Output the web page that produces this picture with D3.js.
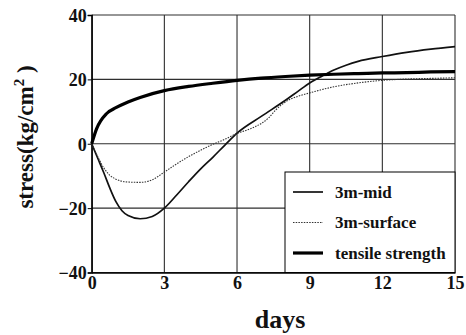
<!DOCTYPE html>
<html>
<head>
<meta charset="utf-8">
<script src="https://cdn.jsdelivr.net/npm/d3@7"></script>
<style>
  body { margin: 0; background: #fff; }
  svg { display: block; }
</style>
</head>
<body>
<script>
'use strict';

// days (x) values for each series
const midDays = [0, 0.25, 0.5, 0.75, 1, 1.25, 1.5, 2, 2.5, 3, 3.5, 4, 4.5, 5, 5.5, 6, 7, 8, 8.5, 9, 9.5, 10, 10.5, 11, 12, 13, 14, 15];
const midStress = [0, -4.5, -9, -13.8, -18, -20.8, -22.3, -23.3, -22.6, -20, -16, -11.8, -7.8, -4.2, -0.4, 3.3, 8.5, 13.5, 16.2, 18.9, 21, 22.9, 24.4, 25.6, 27.1, 28.4, 29.4, 30.2];

const surfDays = [0, 0.25, 0.5, 0.75, 1, 1.5, 2, 2.5, 3, 3.5, 4, 4.5, 5, 5.5, 6, 6.5, 7, 7.3, 7.6, 8, 8.5, 9, 10, 11, 12, 13, 14, 15];
const surfStress = [0, -4, -7.5, -9.8, -11, -11.9, -12, -11.2, -8.8, -6.3, -4, -2, -0.2, 1.4, 3.2, 4.5, 6.3, 8, 10.5, 13, 14.7, 15.8, 17.7, 18.9, 19.7, 20.1, 20.3, 20.5];

const tensDays = [0, 0.2, 0.62, 1, 1.5, 2, 3, 4, 5, 6, 7, 8, 9, 10, 11, 12, 13, 14, 15];
const tensStress = [0, 4.6, 9.4, 11.2, 13, 14.4, 16.5, 17.8, 18.8, 19.7, 20.4, 20.9, 21.3, 21.6, 21.8, 22, 22.1, 22.3, 22.4];

const seriesNames = ['3m-mid', '3m-surface', 'tensile strength'];
const xTicks = [0, 3, 6, 9, 12, 15];
const yTicks = [-40, -20, 0, 20, 40];

const FONT = '"Liberation Serif", "Times New Roman", Times, serif';
const width = 466, height = 335;
const margin = { top: 15, right: 11, bottom: 62.5, left: 91.7 };

const svg = d3.select('body').append('svg')
    .attr('width', width)
    .attr('height', height);

const x = d3.scaleLinear().domain([0, 15]).range([margin.left, width - margin.right]);
const y = d3.scaleLinear().domain([-40, 40]).range([height - margin.bottom, margin.top]);

// grid
const grid = svg.append('g').attr('stroke', '#2e2e2e').attr('stroke-width', 1.1);
grid.selectAll('line.v').data(xTicks).enter().append('line')
    .attr('x1', d => x(d)).attr('x2', d => x(d))
    .attr('y1', y(40)).attr('y2', y(-40));
grid.selectAll('line.h').data(yTicks).enter().append('line')
    .attr('x1', x(0)).attr('x2', x(15))
    .attr('y1', d => y(d)).attr('y2', d => y(d));

// axes
const yAxis = svg.append('g')
    .attr('transform', `translate(${x(0)},0)`)
    .call(d3.axisLeft(y).tickValues(yTicks).tickSize(4).tickPadding(1));
const xAxis = svg.append('g')
    .attr('transform', `translate(0,${y(-40)})`)
    .call(d3.axisBottom(x).tickValues(xTicks).tickSize(0).tickPadding(4));
[xAxis, yAxis].forEach(a => {
    a.select('.domain').attr('stroke', '#000').attr('stroke-width', 1.4);
    a.selectAll('.tick line').attr('stroke', '#000');
    a.selectAll('text')
        .style('font-family', FONT)
        .style('font-weight', 'bold')
        .style('font-size', '18px')
        .attr('fill', '#111');
});
yAxis.selectAll('text').attr('dy', '0.36em');

// series
const line = d3.line().x(d => x(d[0])).y(d => y(d[1])).curve(d3.curveMonotoneX);
const series = [
    { name: seriesNames[0], pts: d3.zip(midDays, midStress), w: 1.7, dash: null, color: '#111' },
    { name: seriesNames[1], pts: d3.zip(surfDays, surfStress), w: 1.1, dash: '1.5,1.2', color: '#333' },
    { name: seriesNames[2], pts: d3.zip(tensDays, tensStress), w: 3.2, dash: null, color: '#000' }
];
svg.append('g').selectAll('path').data(series).enter().append('path')
    .attr('d', d => line(d.pts))
    .attr('fill', 'none')
    .attr('stroke', d => d.color)
    .attr('stroke-width', d => d.w)
    .attr('stroke-dasharray', d => d.dash);

// legend
const lg = svg.append('g');
lg.append('rect')
    .attr('x', 285).attr('y', 172)
    .attr('width', x(15) - 285).attr('height', y(-40) - 172)
    .attr('fill', '#fff').attr('stroke', '#000').attr('stroke-width', 1);
const rows = lg.selectAll('g.row').data(series).enter().append('g')
    .attr('transform', (d, i) => `translate(293,${192 + i * 30.5})`);
rows.append('line')
    .attr('x1', 0).attr('x2', 30).attr('y1', 0).attr('y2', 0)
    .attr('stroke', d => d.color)
    .attr('stroke-width', d => d.w)
    .attr('stroke-dasharray', d => d.dash);
rows.append('text')
    .attr('x', 42).attr('dy', '0.35em')
    .style('font-family', FONT)
    .style('font-weight', 'bold')
    .style('font-size', '17px')
    .attr('fill', '#111')
    .text(d => d.name);

// axis titles
svg.append('text')
    .attr('x', 280).attr('y', 328)
    .attr('text-anchor', 'middle')
    .style('font-family', FONT)
    .style('font-weight', 'bold')
    .style('font-size', '26px')
    .attr('fill', '#111')
    .text('days');

const yt = svg.append('text')
    .attr('transform', 'translate(33,137) rotate(-90)')
    .attr('text-anchor', 'middle')
    .style('font-family', FONT)
    .style('font-weight', 'bold')
    .style('font-size', '23px')
    .attr('fill', '#111');
yt.append('tspan').text('stress(kg/cm');
yt.append('tspan').style('font-size', '15px').attr('dy', -9).text('2');
yt.append('tspan').attr('dy', 9).text(' )');
</script>
</body>
</html>
